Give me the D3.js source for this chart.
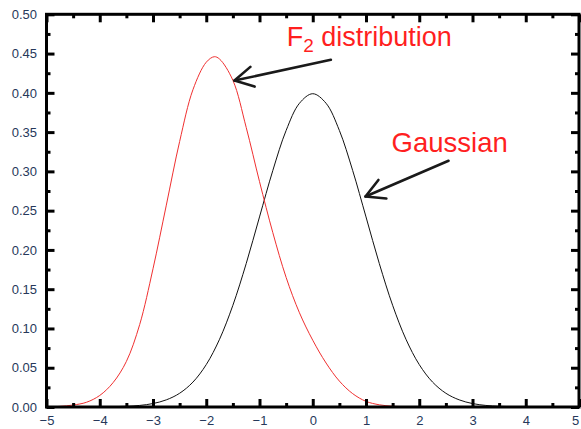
<!DOCTYPE html>
<html>
<head>
<meta charset="utf-8">
<script src="https://cdn.jsdelivr.net/npm/d3@7/dist/d3.min.js"></script>
<style>
  html, body { margin: 0; padding: 0; background: #fff; }
  svg { display: block; }
</style>
</head>
<body>
<svg id="chart" width="581" height="429"></svg>
<script>
// ---- data ----
const xValues = [-5, -4.75, -4.5, -4.25, -4, -3.75, -3.5, -3.25, -3, -2.75, -2.5, -2.25, -2, -1.85, -1.75, -1.5, -1.25, -1, -0.75, -0.5, -0.25, 0, 0.25, 0.5, 0.75, 1, 1.25, 1.5, 1.75, 2, 2.5, 3, 3.5, 4, 4.5, 5];
const f2Values = [0, 0.0008, 0.0025, 0.006, 0.0147, 0.031, 0.058, 0.105, 0.176, 0.257, 0.338, 0.404, 0.439, 0.446, 0.443, 0.416, 0.356, 0.287, 0.222, 0.165, 0.120, 0.085, 0.056, 0.033, 0.017, 0.0072, 0.0028, 0.001, 0.0004, 0.0001, 0, 0, 0, 0, 0, 0];
const gaussX = [-5, -4.5, -4, -3.75, -3.5, -3.25, -3, -2.75, -2.5, -2.25, -2, -1.75, -1.5, -1.25, -1, -0.75, -0.5, -0.25, 0, 0.25, 0.5, 0.75, 1, 1.25, 1.5, 1.75, 2, 2.25, 2.5, 2.75, 3, 3.25, 3.5, 3.75, 4, 4.5, 5];
const gaussValues = [0, 0, 0.0001, 0.0004, 0.0009, 0.0020, 0.0044, 0.0091, 0.0175, 0.0317, 0.0540, 0.0863, 0.1295, 0.1826, 0.2420, 0.3011, 0.3521, 0.3867, 0.3989, 0.3867, 0.3521, 0.3011, 0.2420, 0.1826, 0.1295, 0.0863, 0.0540, 0.0317, 0.0175, 0.0091, 0.0044, 0.0020, 0.0009, 0.0004, 0.0001, 0, 0];
const xTicks = [-5, -4, -3, -2, -1, 0, 1, 2, 3, 4, 5];
const xMinorTicks = [-4.5, -3.5, -2.5, -1.5, -0.5, 0.5, 1.5, 2.5, 3.5, 4.5];
const yTicks = [0, 0.05, 0.10, 0.15, 0.20, 0.25, 0.30, 0.35, 0.40, 0.45, 0.50];
const yMinorTicks = [0.025, 0.075, 0.125, 0.175, 0.225, 0.275, 0.325, 0.375, 0.425, 0.475];
const labelF2 = "F";
const labelF2Sub = "2";
const labelF2Rest = " distribution";
const labelGauss = "Gaussian";

// ---- layout ----
const pLeft = 46.5, pRight = 579, pTop = 14.3, pBottom = 407;
const svg = d3.select("#chart");
const x = d3.scaleLinear().domain([-5, 5]).range([pLeft, pRight]);
const y = d3.scaleLinear().domain([0, 0.5]).range([pBottom, pTop]);
const font = "'Liberation Sans', Arial, sans-serif";
const tickColor = "#26385a";

// curves
const line = d3.line().x(d => x(d[0])).y(d => y(Math.max(0, d[1]))).curve(d3.curveCatmullRom.alpha(0.5));
svg.append("path")
  .datum(gaussX.map((v, i) => [v, gaussValues[i]]))
  .attr("d", line).attr("fill", "none").attr("stroke", "#111").attr("stroke-width", 1);
svg.append("path")
  .datum(xValues.map((v, i) => [v, f2Values[i]]))
  .attr("d", line).attr("fill", "none").attr("stroke", "#f03030").attr("stroke-width", 1);

// axes
function styleAxis(g) {
  g.select(".domain").remove();
  g.selectAll(".tick line").attr("stroke", "#000").attr("stroke-width", 3);
  g.selectAll(".tick text").attr("fill", tickColor).attr("font-family", font).attr("font-size", 13);
}
svg.append("g").attr("transform", `translate(0,${pBottom})`)
  .call(d3.axisBottom(x).tickValues(xTicks).tickFormat(d3.format("d")).tickSize(-8).tickPadding(8.5))
  .call(styleAxis)
  .call(g => g.selectAll(".tick text").filter(d => d === 5).attr("dx", -4));
svg.append("g").attr("transform", `translate(0,${pBottom})`)
  .call(d3.axisBottom(x).tickValues(xMinorTicks).tickFormat("").tickSize(-4))
  .call(styleAxis);
svg.append("g").attr("transform", `translate(0,${pTop})`)
  .call(d3.axisTop(x).tickValues(xTicks).tickFormat("").tickSize(-8))
  .call(styleAxis);
svg.append("g").attr("transform", `translate(0,${pTop})`)
  .call(d3.axisTop(x).tickValues(xMinorTicks).tickFormat("").tickSize(-4))
  .call(styleAxis);
svg.append("g").attr("transform", `translate(${pLeft},0)`)
  .call(d3.axisLeft(y).tickValues(yTicks).tickFormat(d3.format(".2f")).tickSize(-8).tickPadding(9.5))
  .call(styleAxis);
svg.append("g").attr("transform", `translate(${pLeft},0)`)
  .call(d3.axisLeft(y).tickValues(yMinorTicks).tickFormat("").tickSize(-4))
  .call(styleAxis);
svg.append("g").attr("transform", `translate(${pRight},0)`)
  .call(d3.axisRight(y).tickValues(yTicks).tickFormat("").tickSize(-8))
  .call(styleAxis);
svg.append("g").attr("transform", `translate(${pRight},0)`)
  .call(d3.axisRight(y).tickValues(yMinorTicks).tickFormat("").tickSize(-4))
  .call(styleAxis);

// frame
svg.append("rect").attr("x", pLeft).attr("y", pTop)
  .attr("width", pRight - pLeft).attr("height", pBottom - pTop)
  .attr("fill", "none").attr("stroke", "#000").attr("stroke-width", 3);

// annotations (data coordinates)
function arrow(x1, y1, x2, y2) {
  const px1 = x(x1), py1 = y(y1), px2 = x(x2), py2 = y(y2);
  const ang = Math.atan2(py2 - py1, px2 - px1);
  const len = 21, spread = 0.5;
  const g = svg.append("g").attr("stroke", "#1a1a1a").attr("stroke-width", 2.6)
    .attr("fill", "none").attr("stroke-linecap", "round").attr("stroke-linejoin", "round");
  g.append("line").attr("x1", px1).attr("y1", py1).attr("x2", px2).attr("y2", py2);
  g.append("path").attr("d",
    `M${px2 - len * Math.cos(ang - spread)},${py2 - len * Math.sin(ang - spread)}` +
    `L${px2},${py2}` +
    `L${px2 - len * Math.cos(ang + spread)},${py2 - len * Math.sin(ang + spread)}`);
}
arrow(0.34, 0.442, -1.47, 0.4156);
arrow(2.55, 0.3135, 0.99, 0.268);

const t1 = svg.append("text").attr("x", x(-0.49)).attr("y", y(0.4595))
  .attr("font-family", font).attr("font-size", 27).attr("fill", "#ff1f1f");
t1.append("tspan").text(labelF2);
t1.append("tspan").attr("font-size", 19).attr("dy", 6).text(labelF2Sub);
t1.append("tspan").attr("dy", -6).text(labelF2Rest);

svg.append("text").attr("x", x(1.48)).attr("y", y(0.325))
  .attr("font-family", font).attr("font-size", 27.5).attr("fill", "#ff1f1f")
  .text(labelGauss);
</script>
</body>
</html>
